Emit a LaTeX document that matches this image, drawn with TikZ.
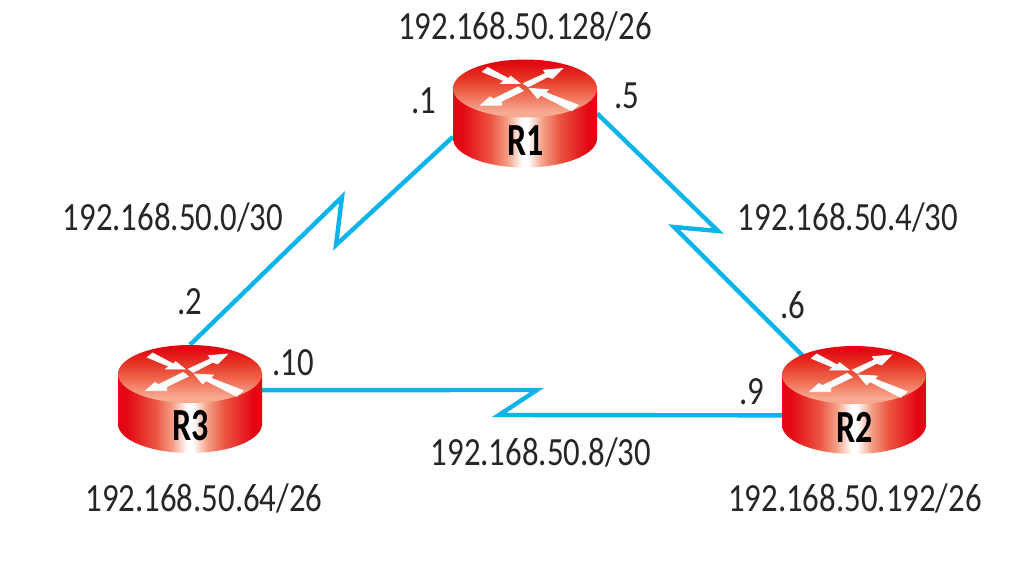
\documentclass[tikz,border=0pt]{standalone}
\usepackage{fontspec}
\setmainfont[FakeStretch=0.82]{Carlito}
\newfontfamily\rfont[FakeStretch=0.74]{Carlito}
\usetikzlibrary{calc}
\definecolor{rred}{HTML}{E30613}
\definecolor{wan}{HTML}{0DB4EA}
\definecolor{sa}{HTML}{EB5541}
\definecolor{sb}{HTML}{F5A087}
\definecolor{ta}{HTML}{F7AA91}
\definecolor{tb}{HTML}{ED5F46}
\definecolor{tc}{HTML}{E63223}
\pgfdeclarehorizontalshading{rside}{100bp}{
  color(0bp)=(rred); color(28bp)=(rred); color(38bp)=(sa);
  color(44bp)=(sb); color(49bp)=(white); color(51bp)=(white);
  color(56bp)=(sb); color(62bp)=(sa);
  color(72bp)=(rred); color(100bp)=(rred)}
\pgfdeclareverticalshading{rtop}{100bp}{
  color(0bp)=(ta); color(30bp)=(ta);
  color(48bp)=(tb); color(60bp)=(tc);
  color(72bp)=(rred); color(100bp)=(rred)}
\tikzset{
  netlabel/.style={font=\fontsize{40}{44}\selectfont,text=black!85,inner sep=0pt,anchor=center},
  rname/.style={font=\rfont\fontsize{46}{48}\selectfont\bfseries,text=black,inner sep=0pt},
  rbox/.style={minimum width=144pt,minimum height=108pt,inner sep=0pt,draw=none},
  wanlink/.style={draw=wan,line width=4.4pt,miter limit=10,line join=miter},
  rarrow/.style={fill=white,draw=white,line width=0.7pt,line join=miter},
}
\newcommand{\routerbody}[2]{% label, centre of bounding box
  \begin{scope}[shift={(#2)}]
    \path[shading=rside]
      (-72,-25) -- (-72,25) arc[start angle=180,end angle=0,x radius=72,y radius=29] -- (72,-25) -- cycle;
    \path[shading=rtop]
      (0,-25) ellipse[x radius=72,y radius=29];
    \begin{scope}[shift={(0,-25)},x=0.3333pt,y=-0.3333pt]
      \path[rarrow] (-128,-50) -- (-112,-63) -- (-50,-30) -- (-43,-37) -- (-15,-15) -- (-73,-15) -- (-63,-23) -- cycle;
      \path[rarrow] (-5,-15) -- (10,-5) -- (68,-35) -- (83,-30) -- (113,-60) -- (55,-55) -- (62,-46) -- cycle;
      \path[rarrow] (-20,-5) -- (-5,7) -- (-70,38) -- (-70,50) -- (-133,50) -- (-105,25) -- (-95,32) -- cycle;
      \path[rarrow] (13,0) -- (70,3) -- (62,12) -- (160,50) -- (140,67) -- (48,20) -- (38,30) -- cycle;
    \end{scope}
  \end{scope}
  \node[rname] at ($(#2)+(1,27)$) {#1};
}
\begin{document}
\begin{tikzpicture}[x=1pt,y=-1pt]
  \useasboundingbox (0,0) rectangle (1028,576);
  \fill[white] (0,0) rectangle (1028,576);
  % router placeholders
  \node[rbox] (r1) at (525,113.5) {};
  \node[rbox] (r2) at (854,400) {};
  \node[rbox] (r3) at (190,399) {};
  % kinks
  \coordinate (k1a) at (336,245);
  \coordinate (k1b) at (342,197);
  \coordinate (k2a) at (718,231);
  \coordinate (k2b) at (674,227);
  \coordinate (k3a) at (537,390);
  \coordinate (k3b) at (499,415);
  \coordinate (r2in) at (808,361);
  % links
  \draw[wanlink] (r1.198) -- (k1a) -- (k1b) -- (r3.north);
  \draw[wanlink] (r1.east) -- (k2a) -- (k2b) -- (r2in);
  \draw[wanlink] (r3.7) -- (k3a) -- (k3b) -- (r2.192);
  % routers
  \routerbody{R1}{r1.center}
  \routerbody{R2}{r2.center}
  \routerbody{R3}{r3.center}
  % labels
  \node[netlabel] (n1) at (525,26) {192.168.50.128/26};
  \node[netlabel] (n2) at (855,498) {192.168.50.192/26};
  \node[netlabel] (n3) at (204,498) {192.168.50.64/26};
  \node[netlabel] (s1) at (173,217) {192.168.50.0/30};
  \node[netlabel] (s2) at (848,217) {192.168.50.4/30};
  \node[netlabel] (s3) at (541,452) {192.168.50.8/30};
  \node[netlabel] (a1) at (424,101) {.1};
  \node[netlabel] (a5) at (627,96) {.5};
  \node[netlabel] (a2) at (190,302) {.2};
  \node[netlabel] (a6) at (793,305) {.6};
  \node[netlabel] (a10) at (293,363) {.10};
  \node[netlabel] (a9) at (752,392) {.9};
\end{tikzpicture}
\end{document}
